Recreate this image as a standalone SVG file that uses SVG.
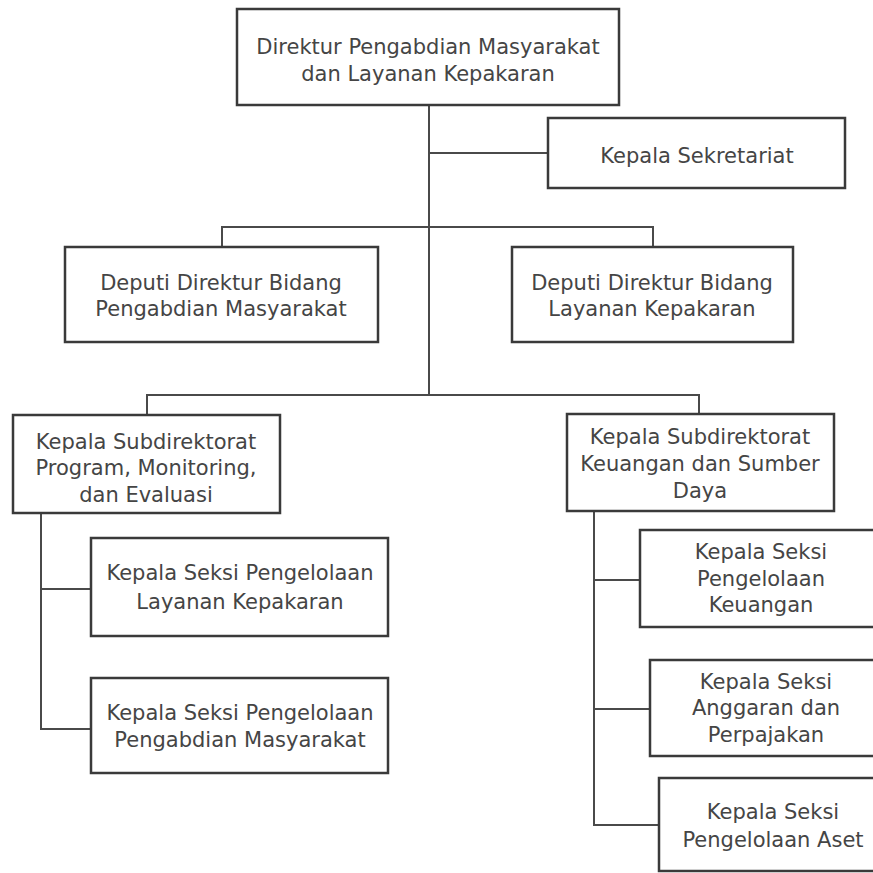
<svg xmlns="http://www.w3.org/2000/svg" width="873" height="873" viewBox="0 0 873 873">
  <style>
    .box { fill: #ffffff; stroke: #3a3a3a; stroke-width: 2.5; }
    .lbl { font-family: "DejaVu Sans", Verdana, sans-serif; font-size: 21px; fill: #454545; text-anchor: middle; }
    .link { fill: none; stroke: #4a4a4a; stroke-width: 2; }
  </style>
  <rect width="873" height="873" fill="#ffffff"/>

  <!-- connectors -->
  <g id="connectors" class="link">
    <path d="M429 105 V395"/>
    <path d="M429 153 H548"/>
    <path d="M222 247 V227 H653 V247"/>
    <path d="M147 415 V395 H699 V414"/>
    <path d="M41 513 V729 H91 M41 589 H91"/>
    <path d="M594 511 V825 H659 M594 580 H640 M594 709 H650"/>
  </g>

  <g id="direktur">
    <rect class="box" x="237" y="9" width="382" height="96"/>
    <text class="lbl" x="428" y="54">Direktur Pengabdian Masyarakat</text>
    <text class="lbl" x="428" y="81">dan Layanan Kepakaran</text>
  </g>

  <g id="sekretariat">
    <rect class="box" x="548" y="118" width="297" height="70"/>
    <text class="lbl" x="697" y="163">Kepala Sekretariat</text>
  </g>

  <g id="deputi-pm">
    <rect class="box" x="65" y="247" width="313" height="95"/>
    <text class="lbl" x="221" y="290">Deputi Direktur Bidang</text>
    <text class="lbl" x="221" y="316">Pengabdian Masyarakat</text>
  </g>

  <g id="deputi-lk">
    <rect class="box" x="512" y="247" width="281" height="95"/>
    <text class="lbl" x="652" y="290">Deputi Direktur Bidang</text>
    <text class="lbl" x="652" y="316">Layanan Kepakaran</text>
  </g>

  <g id="subdir-pme">
    <rect class="box" x="13" y="415" width="267" height="98"/>
    <text class="lbl" x="146" y="449">Kepala Subdirektorat</text>
    <text class="lbl" x="146" y="475">Program, Monitoring,</text>
    <text class="lbl" x="146" y="502">dan Evaluasi</text>
  </g>

  <g id="subdir-ksd">
    <rect class="box" x="567" y="414" width="267" height="97"/>
    <text class="lbl" x="700" y="444">Kepala Subdirektorat</text>
    <text class="lbl" x="700" y="471">Keuangan dan Sumber</text>
    <text class="lbl" x="700" y="498">Daya</text>
  </g>

  <g id="seksi-plk">
    <rect class="box" x="91" y="538" width="297" height="98"/>
    <text class="lbl" x="240" y="580">Kepala Seksi Pengelolaan</text>
    <text class="lbl" x="240" y="609">Layanan Kepakaran</text>
  </g>

  <g id="seksi-ppm">
    <rect class="box" x="91" y="678" width="297" height="95"/>
    <text class="lbl" x="240" y="720">Kepala Seksi Pengelolaan</text>
    <text class="lbl" x="240" y="747">Pengabdian Masyarakat</text>
  </g>

  <g id="seksi-pk">
    <rect class="box" x="640" y="530" width="244" height="97"/>
    <text class="lbl" x="761" y="559">Kepala Seksi</text>
    <text class="lbl" x="761" y="586">Pengelolaan</text>
    <text class="lbl" x="761" y="612">Keuangan</text>
  </g>

  <g id="seksi-ap">
    <rect class="box" x="650" y="660" width="234" height="96"/>
    <text class="lbl" x="766" y="689">Kepala Seksi</text>
    <text class="lbl" x="766" y="715">Anggaran dan</text>
    <text class="lbl" x="766" y="742">Perpajakan</text>
  </g>

  <g id="seksi-pa">
    <rect class="box" x="659" y="778" width="227" height="93"/>
    <text class="lbl" x="773" y="819">Kepala Seksi</text>
    <text class="lbl" x="773" y="847">Pengelolaan Aset</text>
  </g>
</svg>
